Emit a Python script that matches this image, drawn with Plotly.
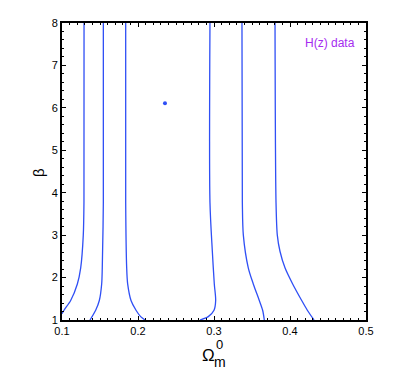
import plotly.graph_objects as go

# contour lines: (Omega_m^0, beta)
om_outer_l = [0.1290, 0.1289, 0.1280, 0.1246, 0.1202, 0.1114, 0.1026, 0.1000]
bt_outer_l = [8.0, 3.77, 3.0, 2.23, 1.85, 1.46, 1.23, 1.15]

om_mid_l = [0.1544, 0.1544, 0.1530, 0.1522, 0.1491, 0.1443, 0.1368]
bt_mid_l = [8.0, 3.77, 2.23, 1.85, 1.46, 1.23, 1.0]

om_in_l = [0.1838, 0.1838, 0.1851, 0.1864, 0.1908, 0.1974, 0.2035, 0.2092]
bt_in_l = [8.0, 3.77, 2.23, 1.85, 1.46, 1.23, 1.08, 1.0]

om_in_r = [0.2947, 0.2947, 0.2978, 0.3004, 0.3022, 0.3000, 0.2925, 0.2816]
bt_in_r = [8.0, 3.77, 2.62, 1.85, 1.46, 1.23, 1.08, 1.0]

om_mid_r = [0.3368, 0.3373, 0.3386, 0.3451, 0.3517, 0.3596, 0.3640, 0.3662]
bt_mid_r = [8.0, 3.77, 3.0, 2.23, 1.85, 1.46, 1.23, 1.0]

om_outer_r = [0.3803, 0.3816, 0.3833, 0.3868, 0.3934, 0.4035, 0.4154, 0.4228, 0.4316]
bt_outer_r = [8.0, 3.77, 3.0, 2.62, 2.23, 1.85, 1.46, 1.23, 1.0]

best_om = [0.2355]
best_bt = [6.11]

x_ticks = [0.1, 0.2, 0.3, 0.4, 0.5]
y_ticks = [1, 2, 3, 4, 5, 6, 7, 8]

BLUE = "#2f4ff5"
FONT = "Liberation Sans, Arial, sans-serif"

fig = go.Figure()
curves = [(om_outer_l, bt_outer_l), (om_mid_l, bt_mid_l), (om_in_l, bt_in_l),
          (om_in_r, bt_in_r), (om_mid_r, bt_mid_r), (om_outer_r, bt_outer_r)]
for xs, ys in curves:
    fig.add_trace(go.Scatter(x=xs, y=ys, mode="lines",
                             line=dict(color=BLUE, width=1.3, shape="spline", smoothing=0.8),
                             showlegend=False, hoverinfo="skip"))

fig.add_trace(go.Scatter(x=best_om, y=best_bt, mode="markers",
                         marker=dict(color=BLUE, size=4), showlegend=False))

axis_common = dict(
    showgrid=False, zeroline=False, mirror="ticks", showline=True,
    linecolor="black", linewidth=2, ticks="inside", ticklen=4, tickwidth=1,
    tickcolor="black", tickfont=dict(family=FONT, size=11, color="black"),
)
fig.update_xaxes(range=[0.1, 0.5], tickvals=x_ticks, ticktext=[str(v) for v in x_ticks],
                 minor=dict(dtick=0.01, ticks="inside", ticklen=2, tickcolor="black"),
                 **axis_common)
fig.update_yaxes(range=[1, 8], tickvals=y_ticks,
                 minor=dict(dtick=0.2, ticks="inside", ticklen=2, tickcolor="black"),
                 **axis_common)

# the page body adds an 8px margin, so the figure is 8px smaller and shifted
OFF = 8
W, H = 412 - OFF, 375 - OFF
L, T = 62 - OFF, 17 - OFF
pw, ph = 304, 303
R, B = W - L - pw, H - T - ph


def px(x):
    return (x - OFF - L) / pw


def py(y):
    return (T + ph - (y - OFF)) / ph


ann = [
    dict(text="Ω", x=px(208), y=py(356), size=17),
    dict(text="0", x=px(219), y=py(345), size=13),
    dict(text="m", x=px(220), y=py(363), size=14),
    dict(text="H(z) data", x=px(330), y=py(37), size=12, color="#a52cf0"),
]
for a in ann:
    fig.add_annotation(text=a["text"], x=a["x"], y=a["y"], xref="paper", yref="paper",
                       showarrow=False, xanchor="center", yanchor="middle",
                       font=dict(family=FONT, size=a["size"], color=a.get("color", "black")))
fig.add_annotation(text="β", x=px(39), y=py(170), xref="paper", yref="paper",
                   showarrow=False, textangle=-90, xanchor="center", yanchor="middle",
                   font=dict(family=FONT, size=15, color="black"))

fig.update_layout(width=W, height=H, margin=dict(l=L, r=R, t=T, b=B),
                  plot_bgcolor="white", paper_bgcolor="white")
fig.write_html("out.html")
